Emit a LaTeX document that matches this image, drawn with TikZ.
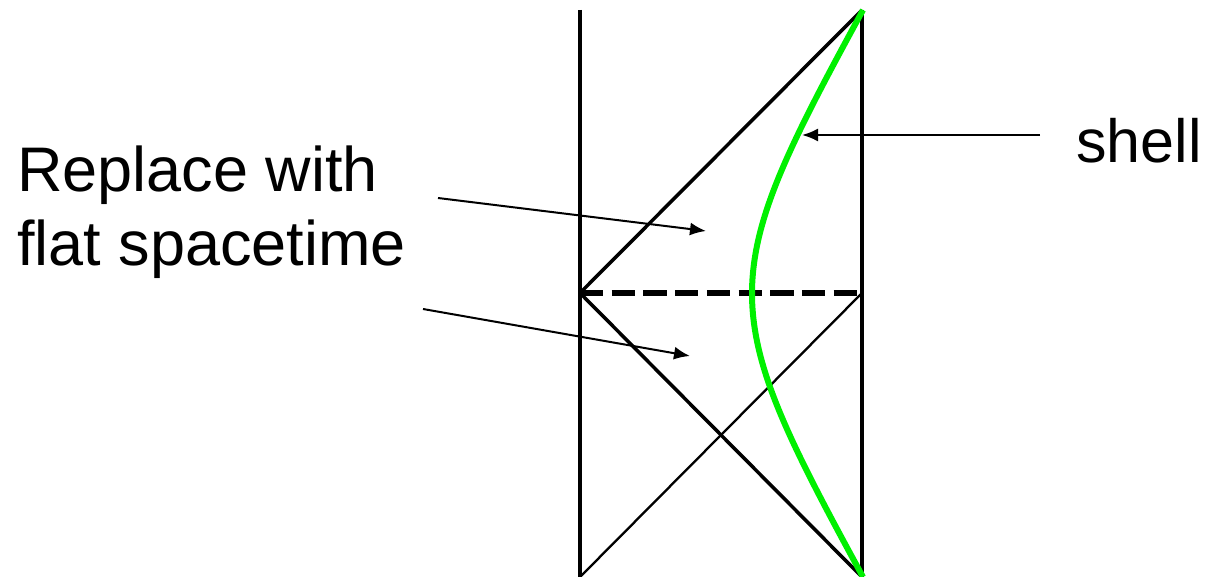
\documentclass[tikz,border=0pt]{standalone}
\usepackage{fontspec}
\setmainfont{Liberation Sans}
\usetikzlibrary{arrows.meta}
\definecolor{shellgreen}{RGB}{0,240,0}
\tikzset{
  frameline/.style={line width=4pt, line cap=butt},
  diag/.style={line width=3.5pt},
  thindiag/.style={line width=2.3pt},
  horizon/.style={line width=6pt, dash pattern=on 23.3pt off 8.4pt},
  shellcurve/.style={line width=6pt, shellgreen},
  pointer/.style={line width=2pt, -{Latex[length=16pt,width=13pt]}},
  label/.style={inner sep=0pt, anchor=base west, font=\fontsize{63}{72}\selectfont},
  smalllabel/.style={inner sep=0pt, anchor=base west, font=\fontsize{61}{72}\selectfont}
}
\begin{document}
\begin{tikzpicture}[x=1pt, y=-1pt]
\useasboundingbox (0,0) rectangle (1207,577);
% corners
\coordinate (TL) at (580,10);
\coordinate (BL) at (580,577);
\coordinate (TR) at (862,10);
\coordinate (BR) at (862,577);
\coordinate (ML) at (580,293);
\coordinate (MR) at (862,293);
% frame
\draw[frameline] (TL) -- (BL);
\draw[frameline] (TR) -- (BR);
\draw[diag] (ML) -- (TR);
\draw[diag] (ML) -- (BR);
\draw[thindiag] (BL) -- (MR);
\draw[horizon] (ML) -- (MR);
% shell
\draw[shellcurve] (863,10) .. controls (715,281) and (715,306) .. (863,577);
% labels
\node[label] (rep) at (17,192) {Replace with};
\node[label] (flat) at (17,266) {flat spacetime};
\node[smalllabel] (shell) at (1076,163) {shell};
% arrows
\coordinate (s0) at (1040,135);
\coordinate (s1) at (802,135);
\coordinate (a0) at (438,198);
\coordinate (a1) at (706,231);
\coordinate (b0) at (423,309);
\coordinate (b1) at (690,356);
\draw[pointer] (s0) -- (s1);
\draw[pointer] (a0) -- (a1);
\draw[pointer] (b0) -- (b1);
\end{tikzpicture}
\end{document}
